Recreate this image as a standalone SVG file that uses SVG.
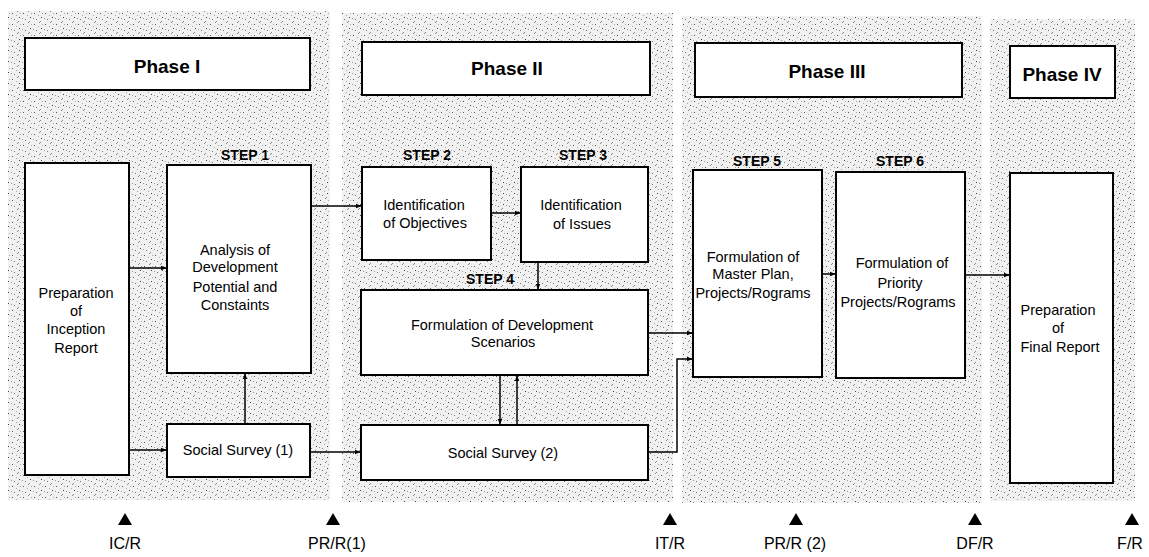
<svg xmlns="http://www.w3.org/2000/svg" width="1149" height="557" viewBox="0 0 1149 557">
<defs>
<pattern id="stip" width="11" height="11" patternUnits="userSpaceOnUse">
<rect width="11" height="11" fill="#f1f1f1"/>
<rect x="1" y="2" width="1" height="1" fill="#555"/>
<rect x="6" y="0" width="1" height="1" fill="#888"/>
<rect x="8" y="6" width="1" height="1" fill="#444"/>
<rect x="3" y="8" width="1" height="1" fill="#777"/>
<rect x="5" y="4" width="1" height="1" fill="#aaa"/>
<rect x="0" y="7" width="1" height="1" fill="#999"/>
<rect x="9" y="2" width="1" height="1" fill="#aaa"/>
<rect x="7" y="10" width="1" height="1" fill="#888"/>
</pattern>
<marker id="ah" viewBox="0 0 10 10" refX="9" refY="5" markerWidth="6" markerHeight="6" orient="auto" markerUnits="userSpaceOnUse">
<path d="M0,1 L10,5 L0,9 z" fill="#000"/>
</marker>
<style>
.box{fill:#fff;stroke:#000;stroke-width:2}
.t{font-family:"Liberation Sans",Arial,sans-serif;font-size:14.5px;text-anchor:middle;fill:#000}
.m{font-family:"Liberation Sans",Arial,sans-serif;font-size:16px;text-anchor:middle;fill:#000}
.ph{font-family:"Liberation Sans",Arial,sans-serif;font-size:19px;font-weight:bold;text-anchor:middle;fill:#000}
.st{font-family:"Liberation Sans",Arial,sans-serif;font-size:14px;font-weight:bold;text-anchor:middle;fill:#000}
.c{fill:none;stroke:#000;stroke-width:1.5;marker-end:url(#ah)}
.tri{fill:#000}
</style>
</defs>
<rect width="1149" height="557" fill="#fff"/>
<g id="panels">
<rect x="8" y="11" width="322" height="489" fill="url(#stip)"/>
<rect x="342" y="13" width="331" height="489" fill="url(#stip)"/>
<rect x="682" y="16" width="300" height="487" fill="url(#stip)"/>
<rect x="990" y="19" width="145" height="482" fill="url(#stip)"/>
</g>
<g id="phase1"><rect class="box" x="25" y="38" width="285" height="52"/><text class="ph" x="167" y="73">Phase I</text></g>
<g id="phase2"><rect class="box" x="362" y="42" width="288" height="53"/><text class="ph" x="507" y="75">Phase II</text></g>
<g id="phase3"><rect class="box" x="695" y="43" width="267" height="54"/><text class="ph" x="827" y="78">Phase III</text></g>
<g id="phase4"><rect class="box" x="1010" y="46" width="105" height="52"/><text class="ph" x="1062" y="81">Phase IV</text></g>
<g id="inception"><rect class="box" x="25" y="163" width="104" height="312"/>
<text class="t" x="76" y="298">Preparation</text><text class="t" x="76" y="316">of</text><text class="t" x="76" y="334">Inception</text><text class="t" x="76" y="353">Report</text></g>
<g id="step1"><text class="st" x="245" y="160">STEP 1</text><rect class="box" x="167" y="165" width="144" height="208"/>
<text class="t" x="235" y="255">Analysis of</text><text class="t" x="235" y="272">Development</text><text class="t" x="235" y="292">Potential and</text><text class="t" x="235" y="310">Constaints</text></g>
<g id="survey1"><rect class="box" x="167" y="424" width="143" height="53"/><text class="t" x="238" y="455">Social Survey (1)</text></g>
<g id="step2"><text class="st" x="427" y="160">STEP 2</text><rect class="box" x="362" y="167" width="129" height="93"/>
<text class="t" x="424" y="210">Identification</text><text class="t" x="425" y="228">of Objectives</text></g>
<g id="step3"><text class="st" x="583" y="160">STEP 3</text><rect class="box" x="521" y="167" width="127" height="95"/>
<text class="t" x="581" y="210">Identification</text><text class="t" x="582" y="229">of Issues</text></g>
<g id="step4"><text class="st" x="490" y="284">STEP 4</text><rect class="box" x="361" y="290" width="287" height="85"/>
<text class="t" x="502" y="330">Formulation of Development</text><text class="t" x="503" y="347">Scenarios</text></g>
<g id="survey2"><rect class="box" x="361" y="425" width="287" height="55"/><text class="t" x="503" y="458">Social Survey (2)</text></g>
<g id="step5"><text class="st" x="757" y="166">STEP 5</text><rect class="box" x="693" y="170" width="129" height="207"/>
<text class="t" x="753" y="262">Formulation of</text><text class="t" x="753" y="279">Master Plan,</text><text class="t" x="753" y="298">Projects/Rograms</text></g>
<g id="step6"><text class="st" x="900" y="166">STEP 6</text><rect class="box" x="836" y="172" width="129" height="206"/>
<text class="t" x="902" y="268">Formulation of</text><text class="t" x="900" y="288">Priority</text><text class="t" x="898" y="307">Projects/Rograms</text></g>
<g id="final"><rect class="box" x="1010" y="173" width="103" height="310"/>
<text class="t" x="1058" y="315">Preparation</text><text class="t" x="1058" y="333">of</text><text class="t" x="1060" y="352">Final Report</text></g>
<g id="connectors">
<path class="c" d="M129,268 H166"/>
<path class="c" d="M129,450 H166"/>
<path class="c" d="M245,424 V374"/>
<path class="c" d="M311,206 H361"/>
<path class="c" d="M310,452 H360"/>
<path class="c" d="M491,213 H520"/>
<path class="c" d="M538,262 V289"/>
<path class="c" d="M500,375 V424"/>
<path class="c" d="M517,425 V376"/>
<path class="c" d="M648,333 H692"/>
<path class="c" d="M648,452 H677 V359 H692"/>
<path class="c" d="M822,274 H835"/>
<path class="c" d="M965,275 H1009"/>
</g>
<g id="milestones">
<path class="tri" d="M118,525 L132,525 L125,513 z"/><text class="m" x="125" y="549">IC/R</text>
<path class="tri" d="M326,525 L340,525 L333,513 z"/><text class="m" x="337" y="549">PR/R(1)</text>
<path class="tri" d="M663,525 L677,525 L670,513 z"/><text class="m" x="670" y="549">IT/R</text>
<path class="tri" d="M789,525 L803,525 L796,513 z"/><text class="m" x="795" y="549">PR/R (2)</text>
<path class="tri" d="M968,525 L982,525 L975,513 z"/><text class="m" x="975" y="549">DF/R</text>
<path class="tri" d="M1125,525 L1139,525 L1132,513 z"/><text class="m" x="1130" y="549">F/R</text>
</g>
</svg>
